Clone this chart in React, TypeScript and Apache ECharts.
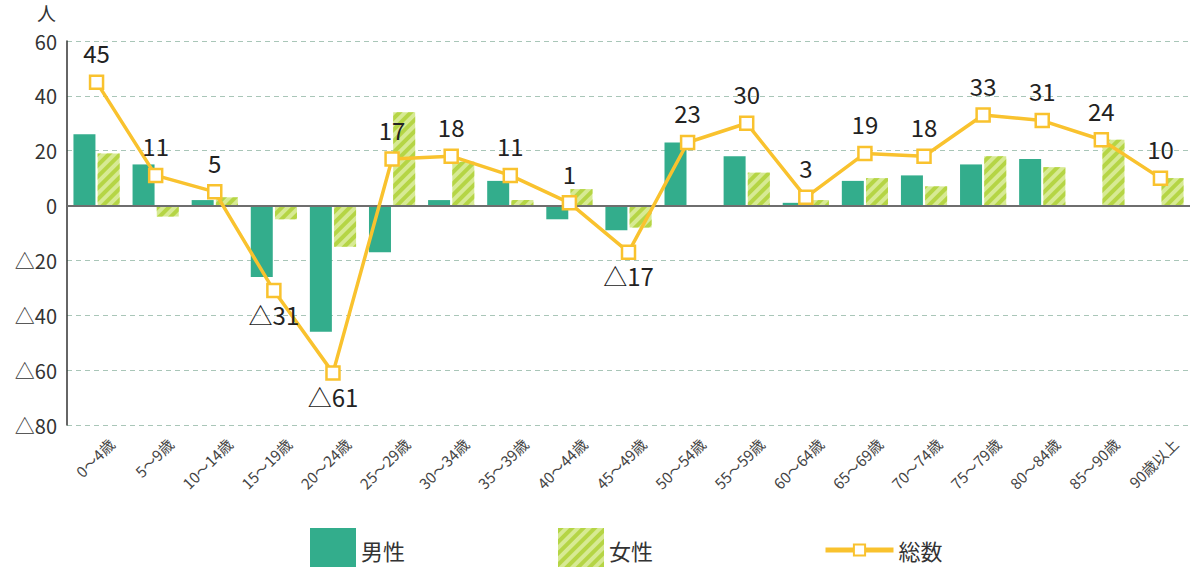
import React, { useEffect, useRef } from "react";
import * as echarts from "echarts";

const categories = [
  "0～4歳", "5～9歳", "10～14歳", "15～19歳", "20～24歳", "25～29歳", "30～34歳",
  "35～39歳", "40～44歳", "45～49歳", "50～54歳", "55～59歳", "60～64歳", "65～69歳",
  "70～74歳", "75～79歳", "80～84歳", "85～90歳", "90歳以上",
];
const male = [26, 15, 2, -26, -46, -17, 2, 9, -5, -9, 23, 18, 1, 9, 11, 15, 17, 0, 0];
const female = [19, -4, 3, -5, -15, 34, 16, 2, 6, -8, 0, 12, 2, 10, 7, 18, 14, 24, 10];
const total = [45, 11, 5, -31, -61, 17, 18, 11, 1, -17, 23, 30, 3, 19, 18, 33, 31, 24, 10];
const yTicks = { min: -80, max: 60, interval: 20 };

const FONT = "'Noto Sans CJK JP', 'Noto Sans', sans-serif";
const fmt = (v: number) => (v < 0 ? "△" + Math.abs(v) : String(v));

const MALE_COLOR = "#33AD8C";
const FEMALE_BASE = "#D7EA94";
const FEMALE_STRIPE = "#B5D545";
const LINE_COLOR = "#F9C22E";

export default function App() {
  const ref = useRef<HTMLDivElement>(null);
  useEffect(() => {
    if (!ref.current) return;
    const chart = echarts.init(ref.current, undefined, { renderer: "svg" });
    const decal = {
      symbol: "rect",
      symbolSize: 1,
      dashArrayX: [1, 0],
      dashArrayY: [4, 4],
      rotation: -Math.PI / 4,
      color: FEMALE_STRIPE,
    };
    const legendText = { fontSize: 22, color: "#333", fontFamily: FONT };
    chart.setOption({
      animation: false,
      textStyle: { fontFamily: FONT },
      grid: { left: 67, right: 6, top: 41, bottom: 142 },
      graphic: [
        {
          type: "text",
          left: 37,
          top: 3,
          style: { text: "人", font: `19px ${FONT}`, fill: "#333" },
        },
      ],
      legend: [
        {
          data: [{ name: "男性", icon: "rect" }],
          left: 305,
          top: 523,
          itemWidth: 46,
          itemHeight: 44,
          textStyle: legendText,
        },
        {
          data: [{ name: "女性", icon: "rect" }],
          left: 553,
          top: 523,
          itemWidth: 46,
          itemHeight: 44,
          textStyle: legendText,
        },
        {
          data: ["総数"],
          left: 818,
          top: 534,
          itemWidth: 68,
          itemHeight: 14,
          itemGap: 10,
          lineStyle: { width: 5 },
          textStyle: legendText,
        },
      ],
      xAxis: {
        type: "category",
        data: categories,
        axisLine: { show: false, onZero: false },
        axisTick: { show: false },
        axisLabel: {
          rotate: 45,
          interval: 0,
          margin: 31,
          padding: [0, -21, 0, 0],
          fontSize: 15,
          color: "#444",
          fontFamily: FONT,
        },
      },
      yAxis: {
        type: "value",
        min: yTicks.min,
        max: yTicks.max,
        interval: yTicks.interval,
        axisLine: { show: true, lineStyle: { color: "#333", width: 1.5 } },
        axisTick: { show: false },
        axisLabel: {
          formatter: (v: number) => fmt(v),
          fontSize: 20,
          color: "#333",
          margin: 10,
          fontFamily: FONT,
        },
        splitLine: { lineStyle: { color: "#A9C6B8", type: [5, 4], width: 1 } },
      },
      series: [
        {
          name: "男性",
          type: "bar",
          data: male,
          barWidth: 22,
          barGap: "10%",
          itemStyle: { color: MALE_COLOR },
          markLine: {
            silent: true,
            symbol: "none",
            label: { show: false },
            lineStyle: { color: "#6E6E6E", type: "solid", width: 2 },
            data: [{ yAxis: 0 }],
          },
        },
        {
          name: "女性",
          type: "bar",
          data: female,
          barWidth: 22,
          itemStyle: { color: FEMALE_BASE, decal },
        },
        {
          name: "総数",
          type: "line",
          data: total.map((v) => ({
            value: v,
            label: { position: v < 0 ? "bottom" : "top", distance: v < 0 ? 4 : 10 },
          })),
          z: 5,
          symbol: "rect",
          symbolSize: 13,
          lineStyle: { color: LINE_COLOR, width: 3.5 },
          itemStyle: { color: "#fff", borderColor: LINE_COLOR, borderWidth: 2.5 },
          label: {
            show: true,
            formatter: (p: any) => fmt(p.value),
            fontSize: 24,
            color: "#222",
            fontFamily: FONT,
          },
        },
      ],
    });
    return () => chart.dispose();
  }, []);
  return (
    <div
      ref={ref}
      style={{ position: "fixed", left: 0, top: 0, width: 1196, height: 567, background: "#fff" }}
    />
  );
}
